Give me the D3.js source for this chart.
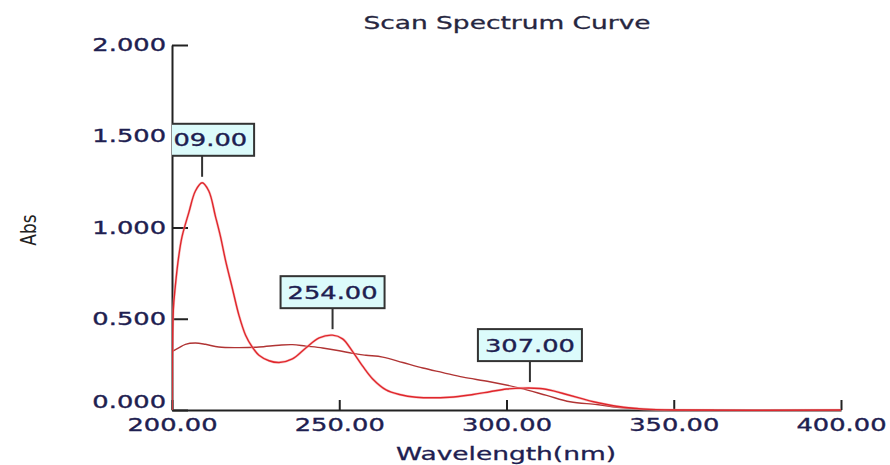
<!DOCTYPE html>
<html>
<head>
<meta charset="utf-8">
<script src="https://cdn.jsdelivr.net/npm/d3@7"></script>
<style>
  body { margin: 0; background: #fff; }
  text { font-family: "DejaVu Sans", Verdana, sans-serif; }
</style>
</head>
<body>
<div id="chart"></div>
<script>
// scan 1 (bright red)
const waveA = [200, 200.4, 201, 202, 203, 205, 207, 209, 211, 213, 214.5, 216, 218, 220, 222, 224, 226, 229, 232, 236, 240, 244, 248, 251, 254, 257, 260, 264, 268, 273, 283, 290, 295, 300, 305, 310, 314, 318, 322, 326, 330, 335, 341, 350, 400]
const absA = [0.0, 0.55, 0.68, 0.84, 0.95, 1.08, 1.2, 1.245, 1.2, 1.06, 0.95, 0.82, 0.67, 0.52, 0.41, 0.345, 0.3, 0.27, 0.26, 0.28, 0.34, 0.395, 0.41, 0.39, 0.32, 0.24, 0.17, 0.11, 0.085, 0.07, 0.07, 0.085, 0.1, 0.115, 0.12, 0.118, 0.105, 0.085, 0.065, 0.045, 0.03, 0.015, 0.005, 0.0, 0.0]

// scan 2 (dark red)
const waveB = [200, 202, 204, 207, 210, 214, 220, 226, 232, 236, 240, 245, 250, 254, 258, 263, 269, 275, 281, 287, 295, 304, 312, 319, 327, 333, 339, 345, 362]
const absB = [0.32, 0.34, 0.36, 0.367, 0.36, 0.345, 0.342, 0.345, 0.355, 0.358, 0.35, 0.34, 0.325, 0.31, 0.3, 0.29, 0.26, 0.23, 0.205, 0.18, 0.155, 0.12, 0.08, 0.045, 0.03, 0.015, 0.008, 0.002, 0.0]

// peak marks
const peakWave = [209, 248, 307]
const peakAbs = [1.245, 0.41, 0.12]
const peakLabels = ["209.00", "254.00", "307.00"]

const xTicks = [200, 250, 300, 350, 400]
const yTicks = [0, 0.5, 1.0, 1.5, 2.0]

const width = 890
const height = 465
const sx = 1.47 // stretched text

const svg = d3.select("#chart")
  .append("svg")
  .attr("width", width)
  .attr("height", height)

svg.append("rect").attr("width", width).attr("height", height).attr("fill", "#fff")

const x = d3.scaleLinear().domain([200, 400]).range([172, 841])
const y = d3.scaleLinear().domain([0, 2]).range([410, 45])

const textColor = "#1e2050"

// title
svg.append("text")
  .attr("transform", `translate(507, 29) scale(${sx},1)`)
  .attr("text-anchor", "middle")
  .attr("font-size", 18)
  .attr("fill", "#262640")
  .attr("stroke", "#262640").attr("stroke-width", 0.3)
  .text("Scan Spectrum Curve")

// axis labels
svg.append("text")
  .attr("transform", `translate(506, 460) scale(${sx},1)`)
  .attr("text-anchor", "middle")
  .attr("font-size", 18)
  .attr("fill", textColor)
  .attr("stroke", textColor).attr("stroke-width", 0.3)
  .text("Wavelength(nm)")

svg.append("text")
  .attr("transform", `translate(36, 230) scale(1.25,1) rotate(-90)`)
  .attr("text-anchor", "middle")
  .attr("font-size", 17)
  .attr("fill", "#222")
  .text("Abs")

// axes
const yAxis = svg.append("g")
  .attr("transform", `translate(${x(200)},0)`)
  .call(d3.axisLeft(y).tickValues(yTicks).tickFormat(d3.format(".3f"))
    .tickSizeInner(-16).tickSizeOuter(0).tickPadding(6))

const xAxis = svg.append("g")
  .attr("transform", `translate(0,${y(0)})`)
  .call(d3.axisBottom(x).tickValues(xTicks).tickFormat(d3.format(".2f"))
    .tickSizeInner(-10).tickSizeOuter(0).tickPadding(9))

for (const ax of [yAxis, xAxis]) {
  ax.select(".domain").attr("stroke", "#222").attr("stroke-width", 2)
  ax.selectAll(".tick line").attr("stroke", "#222").attr("stroke-width", 2)
  ax.selectAll(".tick text")
    .attr("font-family", "DejaVu Sans, Verdana, sans-serif")
    .attr("font-size", 17.5)
    .attr("fill", textColor)
    .attr("stroke", textColor).attr("stroke-width", 0.35)
}

yAxis.selectAll(".tick text")
  .attr("x", -6 / sx)
  .attr("y", d => d === 0 ? -8 : 0)
  .attr("transform", `scale(${sx},1)`)

xAxis.selectAll(".tick text")
  .attr("transform", `scale(${sx},1)`)

// plot clip
svg.append("clipPath").attr("id", "plot")
  .append("rect")
  .attr("x", x(200)).attr("y", 0)
  .attr("width", x(400) - x(200) + 4).attr("height", y(0) + 2)

const line = d3.line()
  .x(d => x(d[0]))
  .y(d => y(d[1]))
  .curve(d3.curveCatmullRom.alpha(0.5))

const plot = svg.append("g").attr("clip-path", "url(#plot)")

plot.append("path")
  .datum(d3.zip(waveB, absB))
  .attr("d", line)
  .attr("fill", "none")
  .attr("stroke", "#b03434")
  .attr("stroke-width", 1.4)

plot.append("path")
  .datum(d3.zip(waveA, absA))
  .attr("d", line)
  .attr("fill", "none")
  .attr("stroke", "#f2a0a0")
  .attr("stroke-width", 2.6)
  .attr("opacity", 0.6)

plot.append("path")
  .datum(d3.zip(waveA, absA))
  .attr("d", line)
  .attr("fill", "none")
  .attr("stroke", "#e0262c")
  .attr("stroke-width", 1.4)

// peak annotations
const boxW = 104
const boxH = 32
const lead = 21

peakWave.forEach((w, i) => {
  const px = x(w)
  const bottom = y(peakAbs[i]) - 6
  const top = bottom - lead
  const g = plot.append("g")
  g.append("line")
    .attr("x1", px).attr("x2", px)
    .attr("y1", bottom).attr("y2", top)
    .attr("stroke", "#333").attr("stroke-width", 2)
  g.append("rect")
    .attr("x", px - boxW / 2).attr("y", top - boxH)
    .attr("width", boxW).attr("height", boxH)
    .attr("fill", "#dcfbfb")
    .attr("stroke", "#333").attr("stroke-width", 2)
  g.append("text")
    .attr("transform", `translate(${px}, ${top - boxH / 2 + 6.5}) scale(${sx},1)`)
    .attr("text-anchor", "middle")
    .attr("font-size", 17.5)
    .attr("fill", textColor)
    .attr("stroke", textColor).attr("stroke-width", 0.35)
    .text(peakLabels[i])
})
</script>
</body>
</html>
